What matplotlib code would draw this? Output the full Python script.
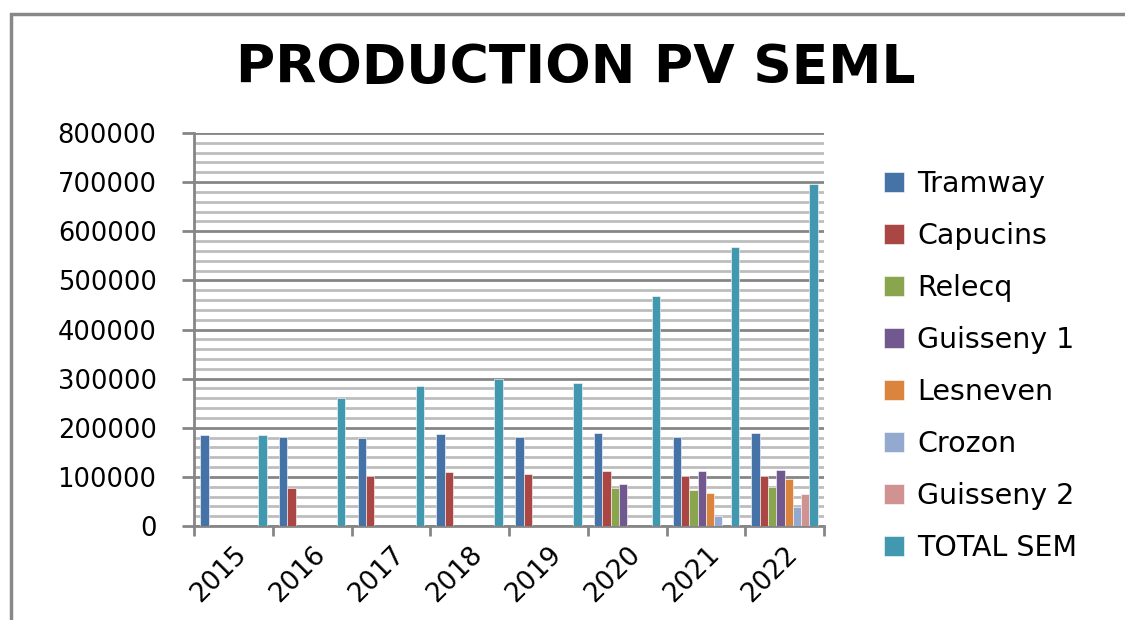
import matplotlib.pyplot as plt
import numpy as np
from matplotlib.patches import Rectangle

years = ['2015', '2016', '2017', '2018', '2019', '2020', '2021', '2022']
series_names = ['Tramway', 'Capucins', 'Relecq', 'Guisseny 1',
                'Lesneven', 'Crozon', 'Guisseny 2', 'TOTAL SEM']
colors = ['#4572A7', '#AA4643', '#89A54E', '#71588F',
          '#DB843D', '#93A9CF', '#D19392', '#4198AF']

nan = np.nan
tramway = [185000, 181000, 179000, 187000, 181000, 190000, 181000, 190000]
capucins = [nan, 77000, 101000, 110000, 106000, 112000, 101000, 101000]
relecq = [nan, nan, nan, nan, nan, 77000, 74000, 79000]
guisseny1 = [nan, nan, nan, nan, nan, 85000, 112000, 115000]
lesneven = [nan, nan, nan, nan, nan, nan, 68000, 96000]
crozon = [nan, nan, nan, nan, nan, nan, 20000, 39000]
guisseny2 = [nan, nan, nan, nan, nan, nan, nan, 65000]
total_sem = [185000, 260000, 285000, 299000, 292000, 468000, 568000, 697000]

values = [tramway, capucins, relecq, guisseny1,
          lesneven, crozon, guisseny2, total_sem]

fig = plt.figure(figsize=(11.25, 6.2), dpi=100)
ax = fig.add_axes([194 / 1125, 1 - 526 / 620, 630 / 1125, 393 / 620])

x = np.arange(len(years))
w = 1 / 9.5
for j in range(len(series_names)):
    ax.bar(x + (j - 3.5) * w, values[j], width=w, color=colors[j],
           edgecolor='white', linewidth=0.4, label=series_names[j], zorder=3)

ax.set_ylim(0, 800000)
ax.set_xlim(-0.5, len(years) - 0.5)

ax.set_yticks(np.arange(0, 800001, 100000))
ax.set_yticks(np.arange(0, 800001, 20000), minor=True)
ax.yaxis.grid(True, which='major', color='#868686', linewidth=2, zorder=0)
ax.yaxis.grid(True, which='minor', color='#bdbdbd', linewidth=2, zorder=0)
ax.tick_params(axis='y', which='major', length=9, width=2, color='#868686',
               labelsize=18.5, pad=18)
ax.tick_params(axis='y', which='minor', length=0)

ax.set_xticks(x)
ax.set_xticklabels(years, rotation=45, ha='right', rotation_mode='anchor')
ax.set_xticks(np.arange(-0.5, len(years)), minor=True)
ax.tick_params(axis='x', which='major', length=0, labelsize=19, pad=11)
ax.tick_params(axis='x', which='minor', length=7, width=2, color='#868686')

for side in ['top', 'right']:
    ax.spines[side].set_visible(False)
for side in ['left', 'bottom']:
    ax.spines[side].set_color('#868686')
    ax.spines[side].set_linewidth(2)
ax.set_axisbelow(True)

fig.text(0.512, 0.89, 'PRODUCTION PV SEML', ha='center', va='center',
         fontsize=38.5, fontweight='bold')

fig.legend(loc='center left', bbox_to_anchor=(0.786, 0.41), frameon=False,
           fontsize=20.5, labelspacing=0.84, handlelength=0.7, handleheight=0.7,
           handletextpad=0.45, borderpad=0, borderaxespad=0)

# outer chart frame
fig.patches.append(Rectangle((11 / 1125, -0.1), 1.2, 1 - 14 / 620 + 0.1,
                             transform=fig.transFigure, fill=False,
                             edgecolor='#888888', linewidth=2.5))

fig.savefig('out.png', dpi=100)
